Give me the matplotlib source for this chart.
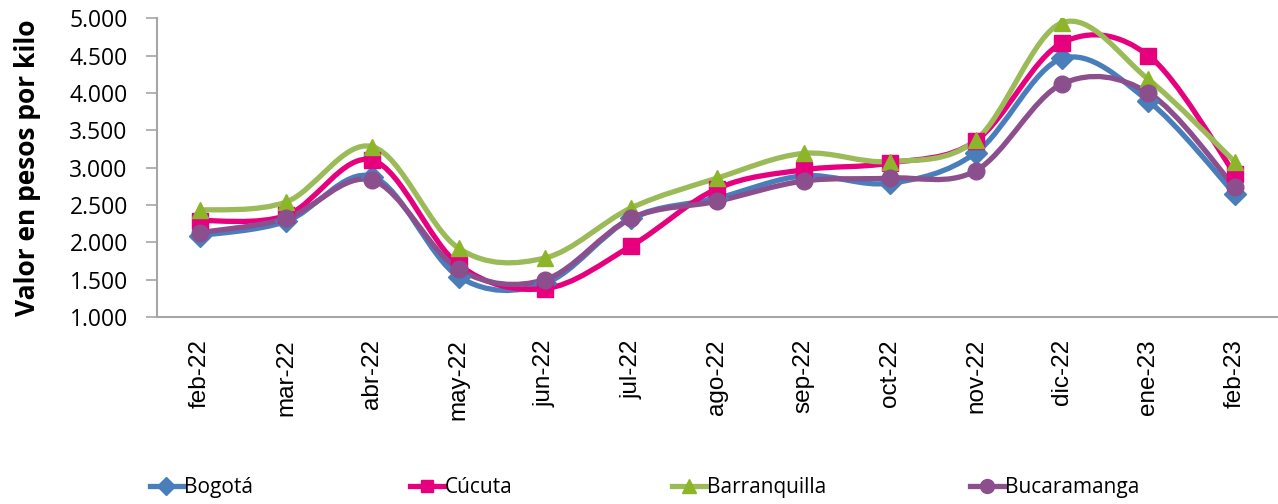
import matplotlib
matplotlib.use("Agg")
import matplotlib.pyplot as plt
import numpy as np
from matplotlib.path import Path
from matplotlib.patches import PathPatch
from matplotlib.lines import Line2D

months = ["feb-22", "mar-22", "abr-22", "may-22", "jun-22", "jul-22", "ago-22",
          "sep-22", "oct-22", "nov-22", "dic-22", "ene-23", "feb-23"]

bogota = [2090, 2280, 2880, 1540, 1450, 2320, 2590, 2890, 2790, 3200, 4460, 3890, 2650]
cucuta = [2290, 2360, 3100, 1700, 1380, 1950, 2720, 2970, 3060, 3360, 4670, 4500, 2920]
barranquilla = [2430, 2540, 3280, 1920, 1790, 2460, 2860, 3190, 3080, 3370, 4940, 4180, 3080]
bucaramanga = [2130, 2320, 2830, 1640, 1500, 2320, 2550, 2820, 2860, 2960, 4120, 4000, 2740]

series = [
    ("Bogotá", bogota, "#4A7EBB", "#4A7EBB", "D", 11),
    ("Cúcuta", cucuta, "#E6007E", "#E6007E", "s", 11),
    ("Barranquilla", barranquilla, "#9BBB59", "#8DB52A", "^", 12),
    ("Bucaramanga", bucaramanga, "#8B4F8E", "#8B4F8E", "o", 12),
]


def smooth_path(x, y):
    """Catmull-Rom style bezier through the points (like Excel smoothed lines)."""
    pts = np.column_stack([x, y]).astype(float)
    n = len(pts)
    verts = [pts[0]]
    codes = [Path.MOVETO]
    for i in range(n - 1):
        p0 = pts[i - 1] if i > 0 else pts[i]
        p1 = pts[i]
        p2 = pts[i + 1]
        p3 = pts[i + 2] if i + 2 < n else pts[i + 1]
        c1 = p1 + (p2 - p0) / 6.0
        c2 = p2 - (p3 - p1) / 6.0
        verts += [c1, c2, p2]
        codes += [Path.CURVE4] * 3
    return Path(verts, codes)


fig = plt.figure(figsize=(12.78, 5.04), dpi=100)
ax = fig.add_axes([0.1228, 0.371, 0.877, 0.593])

x = np.arange(len(months))
for name, vals, lcol, mcol, mk, ms in series:
    patch = PathPatch(smooth_path(x, vals), facecolor="none", edgecolor=lcol,
                      linewidth=3.8, capstyle="round", joinstyle="round")
    ax.add_patch(patch)
    ax.plot(x, vals, linestyle="none", marker=mk, markersize=ms,
            color=mcol, markeredgecolor=mcol)

ax.set_xlim(-0.5, len(months) - 0.5)
ax.set_ylim(1000, 5000)
ax.set_yticks(np.arange(1000, 5001, 500))
ax.set_yticklabels([f"{v:,}".replace(",", ".") for v in range(1000, 5001, 500)],
                   fontsize=16.5, family="Open Sans")
ax.set_xticks(x)
ax.set_xticklabels(months, rotation=90, fontsize=17.5, family="Liberation Sans")
ax.tick_params(axis="x", length=0, pad=16)
ax.tick_params(axis="y", length=8, width=1.2, color="#A6A6A6", direction="out", pad=13)

for s in ["top", "right"]:
    ax.spines[s].set_visible(False)
for s in ["left", "bottom"]:
    ax.spines[s].set_color("#A6A6A6")
    ax.spines[s].set_linewidth(1.5)

ax.set_ylabel("Valor en pesos por kilo", fontsize=19, fontweight="bold",
              family="Open Sans")
ax.yaxis.set_label_coords(-0.103, 0.5)

legend_x = [0.109, 0.313, 0.518, 0.751]
for (name, vals, lcol, mcol, mk, ms), lx in zip(series, legend_x):
    h = Line2D([], [], color=lcol, linewidth=3.8, marker=mk, markersize=ms - 2,
               markerfacecolor=mcol, markeredgecolor=mcol)
    fig.legend([h], [name], loc="center left", bbox_to_anchor=(lx, 0.032),
               frameon=False, handlelength=1.6, handletextpad=0.05,
               prop={"family": "Open Sans", "size": 15}, borderpad=0)

fig.savefig("out.png", dpi=100)
